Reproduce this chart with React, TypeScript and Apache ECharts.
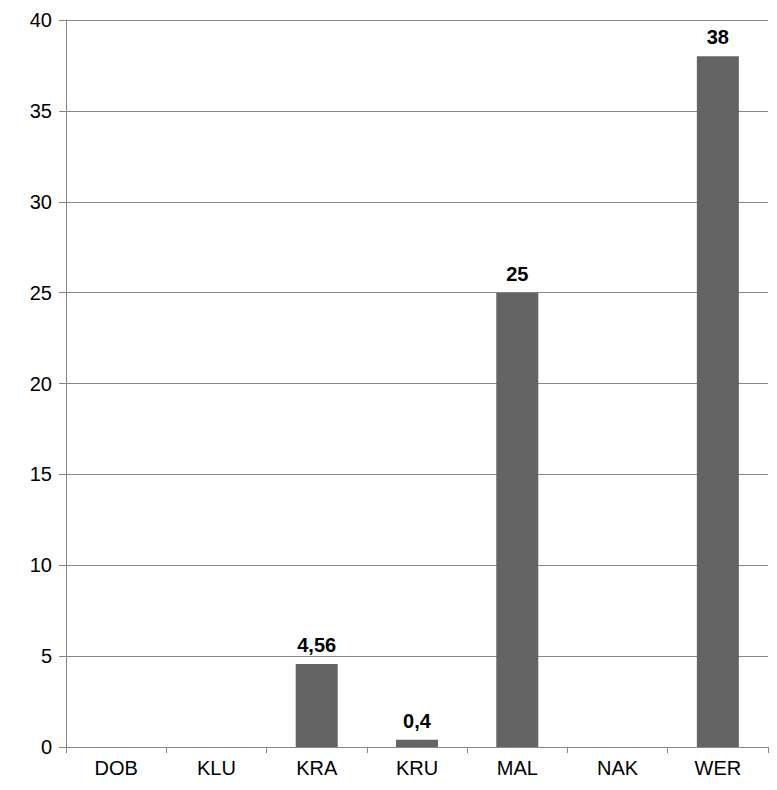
import React, { useEffect, useRef } from "react";
import * as echarts from "echarts";

const categories = ["DOB", "KLU", "KRA", "KRU", "MAL", "NAK", "WER"];
const values: (number | null)[] = [null, null, 4.56, 0.4, 25, null, 38];

export default function App() {
  const ref = useRef<HTMLDivElement>(null);
  useEffect(() => {
    document.body.style.margin = "0";
    const chart = echarts.init(ref.current!, null, { renderer: "svg" });
    chart.setOption({
      animation: false,
      grid: { left: 66, right: 9, top: 20, bottom: 43 },
      xAxis: {
        type: "category",
        data: categories,
        axisLine: { lineStyle: { color: "#888", width: 1 } },
        axisTick: { show: true, length: 6, lineStyle: { color: "#888" } },
        axisLabel: { color: "#000", fontSize: 20, fontFamily: "Liberation Sans", margin: 11 },
      },
      yAxis: {
        type: "value",
        min: 0,
        max: 40,
        interval: 5,
        axisLine: { show: true, lineStyle: { color: "#888" } },
        axisTick: { show: true, length: 7, lineStyle: { color: "#888" } },
        axisLabel: { color: "#000", fontSize: 20, fontFamily: "Liberation Sans", margin: 14 },
        splitLine: { lineStyle: { color: "#888", width: 1 } },
      },
      series: [
        {
          type: "bar",
          data: values,
          barWidth: 42,
          itemStyle: { color: "#646464" },
          label: {
            show: true,
            position: "top",
            distance: 9,
            color: "#000",
            fontWeight: "bold",
            fontSize: 20,
            fontFamily: "Liberation Sans",
            formatter: (p: any) => String(p.value).replace(".", ","),
          },
        },
      ],
    });
    return () => chart.dispose();
  }, []);
  return <div ref={ref} style={{ width: 777, height: 790 }} />;
}
